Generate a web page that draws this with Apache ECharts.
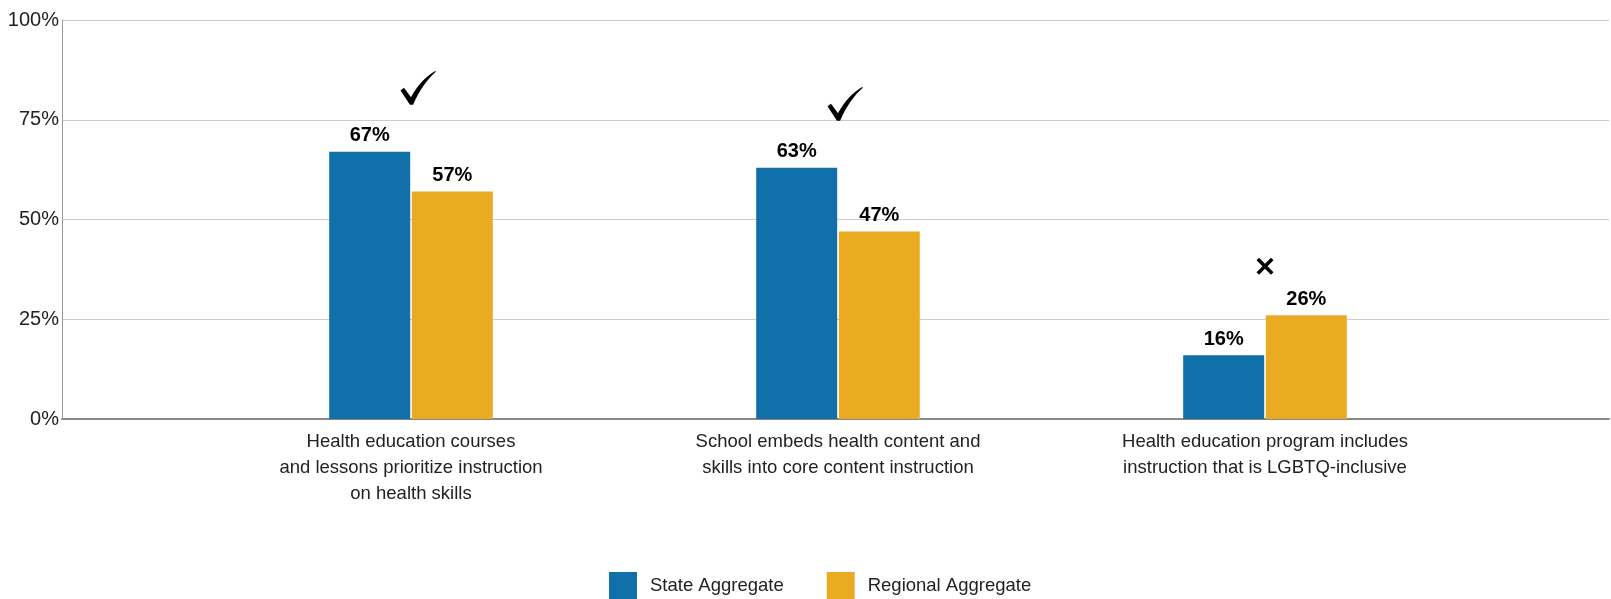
<!DOCTYPE html>
<html>
<head>
<meta charset="utf-8">
<script src="https://cdn.jsdelivr.net/npm/echarts@6/dist/echarts.min.js"></script>
<style>
  html, body { margin: 0; padding: 0; background: #fff; }
  #main { width: 1611px; height: 599px; }
</style>
</head>
<body>
<div id="main"></div>
<script>
var categories = [
    'Health education courses\nand lessons prioritize instruction\non health skills',
    'School embeds health content and\nskills into core content instruction',
    'Health education program includes\ninstruction that is LGBTQ-inclusive'
];
var stateValues = [67, 63, 16];
var regionalValues = [57, 47, 26];
var marks = ['ok', 'ok', 'no'];   // check = state ahead, cross = state behind
var yTicks = [0, 25, 50, 75, 100];

var blue = '#1170aa';
var gold = '#eaab23';
var font = 'Liberation Sans, Arial, sans-serif';

// hand drawn check and a bold cross
var markStyle = {
    ok: {
        symbol: 'path://M0,58 L10,50 L30,78 C46,46 70,18 100,0 L100,4 C76,26 53,60 36,100 L27,100 Z',
        symbolSize: [35, 34],
        symbolOffset: [7, -64]
    },
    no: {
        symbol: 'path://M0,15 L15,0 L50,35 L85,0 L100,15 L65,50 L100,85 L85,100 L50,65 L15,100 L0,85 L35,50 Z',
        symbolSize: [17, 17],
        symbolOffset: [0, -49]
    }
};

// one point per group, sitting on the taller bar
var markData = categories.map(function (c, i) {
    var s = markStyle[marks[i]];
    return {
        value: [i, Math.max(stateValues[i], regionalValues[i])],
        symbol: s.symbol,
        symbolSize: s.symbolSize,
        symbolOffset: s.symbolOffset
    };
});

var myChart = echarts.init(document.getElementById('main'));

var option = {
    animation: false,
    textStyle: { fontFamily: font },
    grid: [
        { left: 62, right: 2, top: 20, bottom: 180 },   // frame, y axis, gridlines
        { left: 197.5, width: 1281, top: 20, bottom: 180 } // bars
    ],
    legend: {
        left: 604,
        top: 567,
        itemWidth: 28,
        itemHeight: 28,
        itemGap: 43,
        icon: 'rect',
        data: ['State Aggregate', 'Regional Aggregate'],
        textStyle: { fontSize: 18.5, color: '#222', padding: [0, 0, 0, 8] }
    },
    xAxis: [
        {
            type: 'value', gridIndex: 0, min: 0, max: 1,
            axisLine: { show: true, lineStyle: { color: '#888', width: 2 } },
            axisTick: { show: false },
            axisLabel: { show: false },
            splitLine: { show: false }
        },
        {
            type: 'category', gridIndex: 1,
            data: categories,
            axisLine: { show: false },
            axisTick: { show: false },
            axisLabel: {
                interval: 0,
                margin: 10,
                fontSize: 18.5,
                lineHeight: 26,
                color: '#222',
                align: 'center'
            }
        }
    ],
    yAxis: [
        {
            type: 'value', gridIndex: 0,
            min: yTicks[0], max: yTicks[yTicks.length - 1], interval: 25,
            axisLine: { show: true, lineStyle: { color: '#999', width: 1 } },
            axisTick: { show: false },
            axisLabel: { formatter: '{value}%', fontSize: 20, color: '#222', margin: 3 },
            splitLine: { lineStyle: { color: '#ccc', width: 1 } }
        },
        {
            type: 'value', gridIndex: 1,
            min: 0, max: 100, show: false,
            splitLine: { show: false }
        }
    ],
    series: [
        {
            name: 'State Aggregate',
            type: 'bar',
            xAxisIndex: 1, yAxisIndex: 1,
            barWidth: 81,
            barGap: '2%',
            itemStyle: { color: blue },
            label: {
                show: true, position: 'top', distance: 6,
                formatter: '{c}%', fontSize: 20, fontWeight: 'bold', color: '#000'
            },
            data: stateValues
        },
        {
            name: 'Regional Aggregate',
            type: 'bar',
            xAxisIndex: 1, yAxisIndex: 1,
            barWidth: 81,
            barGap: '2%',
            itemStyle: { color: gold },
            label: {
                show: true, position: 'top', distance: 6,
                formatter: '{c}%', fontSize: 20, fontWeight: 'bold', color: '#000'
            },
            data: regionalValues
        },
        {
            name: 'marks',
            type: 'scatter',
            xAxisIndex: 1, yAxisIndex: 1,
            silent: true,
            itemStyle: { color: '#000', opacity: 1 },
            data: markData
        }
    ]
};

myChart.setOption(option);
</script>
</body>
</html>
